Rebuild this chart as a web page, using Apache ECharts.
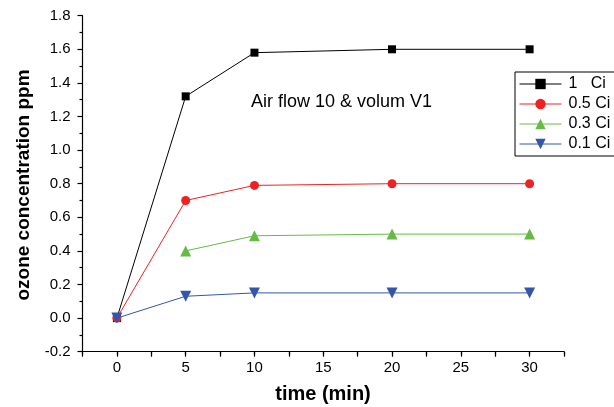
<!DOCTYPE html>
<html>
<head>
<meta charset="utf-8">
<script src="https://cdn.jsdelivr.net/npm/echarts@6/dist/echarts.min.js"></script>
<style>
  html, body { margin: 0; padding: 0; background: #fff; }
  #chart { width: 614px; height: 407px; }
</style>
</head>
<body>
<div id="chart"></div>
<script>
// Ozone concentration (ppm) against time (min) for four source strengths
const seriesNames = ['1   Ci', '0.5 Ci', '0.3 Ci', '0.1 Ci'];
const time1 = [0, 5, 10, 20, 30];
const ci1 = [0, 1.32, 1.58, 1.60, 1.60];
const time05 = [0, 5, 10, 20, 30];
const ci05 = [0, 0.70, 0.79, 0.80, 0.80];
const time03 = [5, 10, 20, 30];
const ci03 = [0.40, 0.49, 0.50, 0.50];
const time01 = [0, 5, 10, 20, 30];
const ci01 = [0, 0.13, 0.15, 0.15, 0.15];
const xTicks = [0, 5, 10, 15, 20, 25, 30];
const yTicks = [-0.2, 0, 0.2, 0.4, 0.6, 0.8, 1.0, 1.2, 1.4, 1.6, 1.8];
const noteText = 'Air flow 10 & volum V1';

const pairs = (xs, ys) => xs.map((x, i) => [x, ys[i]]);
const FONT = '"Liberation Sans", Arial, sans-serif';

const chart = echarts.init(document.getElementById('chart'), null, { renderer: 'canvas' });

function lineSeries(name, xs, ys, color, symbol, size, rotate) {
  return {
    name: name,
    type: 'line',
    xAxisIndex: 0,
    yAxisIndex: 0,
    data: pairs(xs, ys),
    symbol: symbol,
    symbolSize: size,
    symbolRotate: rotate || 0,
    showAllSymbol: true,
    lineStyle: { color: color, width: 1 },
    itemStyle: { color: color, borderWidth: 0 },
    emphasis: { disabled: true },
    animation: false,
    z: 3
  };
}

const option = {
  animation: false,
  grid: { left: 82.5, right: 50, top: 15.7, bottom: 55.3, containLabel: false },
  xAxis: [
    {
      type: 'value',
      min: -2.5,
      max: 32.5,
      interval: 2.5,
      axisLine: { show: true, onZero: false, lineStyle: { color: '#000', width: 1.2 } },
      axisTick: {
        show: true, inside: false, length: 5,
        lineStyle: { color: '#000', width: 1.2 },
        interval: function (idx, val) { return xTicks.indexOf(+val) >= 0; }
      },
      axisLabel: {
        margin: 9,
        color: '#000',
        fontFamily: FONT,
        fontSize: 15,
        formatter: function (v) { return xTicks.indexOf(v) >= 0 ? String(v) : ''; }
      },
      splitLine: { show: false }
    },
    {
      // minor ticks every 2.5 min
      type: 'value',
      position: 'bottom',
      min: -2.5,
      max: 32.5,
      interval: 2.5,
      axisLine: { show: false, onZero: false },
      axisTick: { show: true, inside: false, length: 3, lineStyle: { color: '#000', width: 1.2 } },
      axisLabel: { show: false },
      splitLine: { show: false }
    }
  ],
  yAxis: {
    type: 'value',
    min: yTicks[0],
    max: yTicks[yTicks.length - 1],
    interval: 0.2,
    axisLine: { show: true, onZero: false, lineStyle: { color: '#000', width: 1.2 } },
    axisTick: { show: true, inside: false, length: 5, lineStyle: { color: '#000', width: 1.2 } },
    minorTick: { show: true, splitNumber: 2, length: 3, lineStyle: { color: '#000', width: 1.2 } },
    axisLabel: {
      margin: 12,
      color: '#000',
      fontFamily: FONT,
      fontSize: 15,
      formatter: function (v) { return (Math.round(v * 10) / 10).toFixed(1); }
    },
    splitLine: { show: false }
  },
  legend: {
    orient: 'vertical',
    left: 515,
    top: 72,
    padding: [4, 60, 4, 4],
    itemGap: 4,
    itemWidth: 42,
    itemHeight: 13,
    borderColor: '#000',
    borderWidth: 1,
    backgroundColor: '#fff',
    selectedMode: false,
    lineStyle: { width: 1 },
    textStyle: { color: '#000', fontFamily: FONT, fontSize: 16, padding: [0, 0, 0, 2] },
    data: seriesNames
  },
  series: [
    lineSeries(seriesNames[0], time1, ci1, '#000000', 'rect', 8),
    lineSeries(seriesNames[1], time05, ci05, '#ee2222', 'circle', 9),
    lineSeries(seriesNames[2], time03, ci03, '#66bb44', 'triangle', 11),
    lineSeries(seriesNames[3], time01, ci01, '#3355aa', 'triangle', 11, 180)
  ],
  graphic: [
    {
      type: 'text',
      left: 251,
      top: 93,
      style: { text: noteText, fill: '#000', font: '18px ' + FONT }
    },
    {
      type: 'text',
      x: 24,
      y: 185,
      rotation: Math.PI / 2,
      style: {
        text: 'ozone concentration ppm',
        fill: '#000',
        font: 'bold 19px ' + FONT,
        align: 'center',
        verticalAlign: 'middle'
      }
    },
    {
      type: 'text',
      x: 323,
      y: 394,
      style: {
        text: 'time (min)',
        fill: '#000',
        font: 'bold 20px ' + FONT,
        align: 'center',
        verticalAlign: 'middle'
      }
    }
  ]
};

chart.setOption(option);
</script>
</body>
</html>
